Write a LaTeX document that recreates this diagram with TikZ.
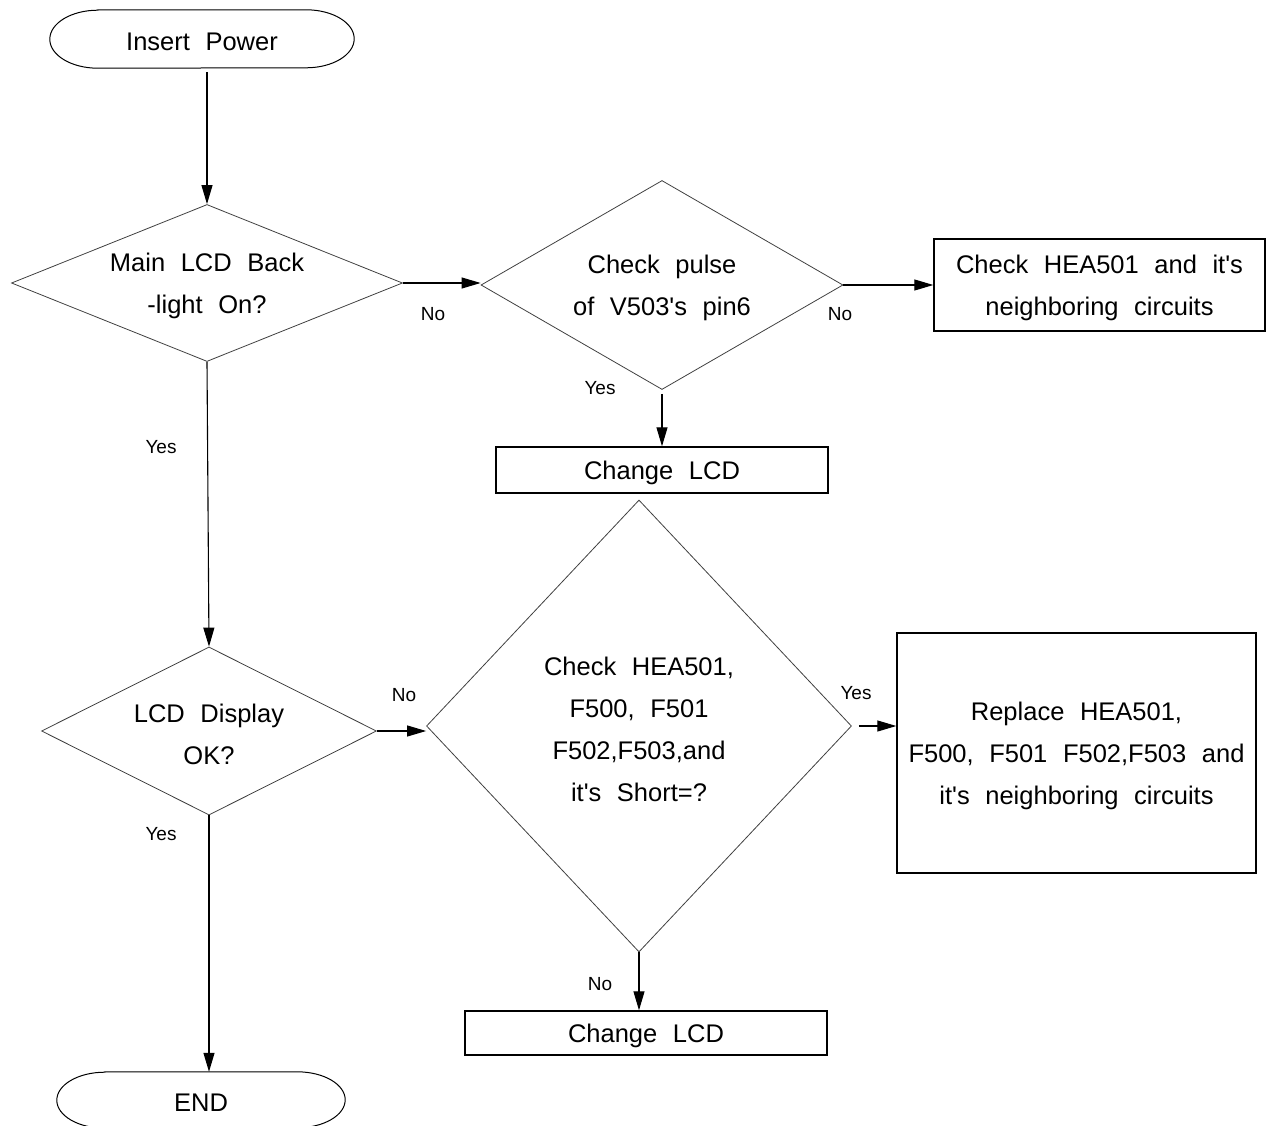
\documentclass[tikz,border=0pt]{standalone}
\usepackage{fontspec}
\setmainfont{Liberation Sans}[WordSpace=2.2]
\usetikzlibrary{shapes.geometric,arrows.meta}
\newcommand\sq{\textquotesingle}
\newcommand\termpath[2]{%
  \draw[termline] ([xshift=48pt]#1.north west) -- ([xshift=-48pt]#1.north east)
    arc[start angle=90,end angle=-90,x radius=48pt,y radius=#2]
    -- ([xshift=48pt]#1.south west)
    arc[start angle=270,end angle=90,x radius=48pt,y radius=#2] -- cycle;}
\tikzset{
  x=1pt, y=1pt,
  txt/.style={font=\fontsize{25.5pt}{42pt}\selectfont, align=center},
  intxt/.style={txt, yshift=-3pt},
  lbl/.style={font=\fontsize{19pt}{22pt}\selectfont, inner sep=0pt},
  dia/.style={diamond, draw=black!75, line width=0.8pt, inner sep=0pt},
  procbox/.style={rectangle, draw=black, line width=1.4pt, inner sep=0pt},
  termnode/.style={inner sep=0pt},
  termline/.style={draw=black, line width=1pt},
  flow/.style={draw=black, line width=1.1pt, -{Triangle[length=19pt,width=11pt]}},
}
\begin{document}
\begin{tikzpicture}
\useasboundingbox (0,0) rectangle (1267,-1126);
% terminals
\node[termnode, minimum width=304pt, minimum height=58pt,
  label={[intxt]center:Insert Power}] (start) at (202,-39) {};
\termpath{start}{29pt}
\node[termnode, minimum width=288pt, minimum height=56pt,
  label={[intxt]center:END}] (stop) at (201,-1100) {};
\termpath{stop}{28pt}
% decisions
\node[dia, minimum width=391pt, minimum height=157pt,
  label={[intxt]center:Main LCD Back\\-light On?}] (d1) at (207,-283) {};
\node[dia, minimum width=362pt, minimum height=209pt,
  label={[intxt]center:Check pulse\\of V503\sq s pin6}] (d2) at (662,-285) {};
\node[dia, minimum width=335pt, minimum height=168pt,
  label={[intxt]center:LCD Display\\OK?}] (d4) at (209,-731) {};
\node[dia, minimum width=425pt, minimum height=452pt,
  label={[intxt]center:Check HEA501,\\F500, F501\\F502,F503,and\\it\sq s Short=?}] (d3) at (639,-726) {};
% process boxes
\node[procbox, minimum width=331pt, minimum height=92pt,
  label={[intxt]center:Check HEA501 and it\sq s\\neighboring circuits}] (b1) at (1099.5,-285) {};
\node[procbox, minimum width=332pt, minimum height=46pt,
  label={[intxt]center:Change LCD}] (b2) at (662,-470) {};
\node[procbox, minimum width=359pt, minimum height=240pt,
  label={[intxt]center:Replace HEA501,\\F500, F501 F502,F503 and\\it\sq s neighboring circuits}] (b3) at (1076.5,-753) {};
\node[procbox, minimum width=362pt, minimum height=44pt,
  label={[intxt]center:Change LCD}] (b4) at (646,-1033) {};
% connectors
\draw[flow] ([yshift=-4pt]start.south -| d1.north) -- (d1.north);
\draw[flow] (d1.east) -- (d1.east -| d2.west);
\draw[flow] (d2.east) -- (d2.east -| b1.west);
\draw[flow] ([yshift=-4pt]d2.south) -- (d2.south |- b2.north);
\draw[flow] (d1.south) -- (d4.north);
\draw[flow] (d4.east) -- (d4.east -| d3.west);
\draw[flow] ([xshift=7pt]d3.east) -- (d3.east -| b3.west);
\draw[flow] (d3.south) -- (d3.south |- b4.north);
\draw[flow] (d4.south) -- (d4.south |- stop.north);
% labels
\node[lbl] (l1) at (433,-314) {No};
\node[lbl] (l2) at (840,-314) {No};
\node[lbl] (l3) at (600,-388) {Yes};
\node[lbl] (l4) at (161,-447) {Yes};
\node[lbl] (l5) at (404,-695) {No};
\node[lbl] (l6) at (856,-693) {Yes};
\node[lbl] (l7) at (161,-834) {Yes};
\node[lbl] (l8) at (600,-984) {No};
\end{tikzpicture}
\end{document}
